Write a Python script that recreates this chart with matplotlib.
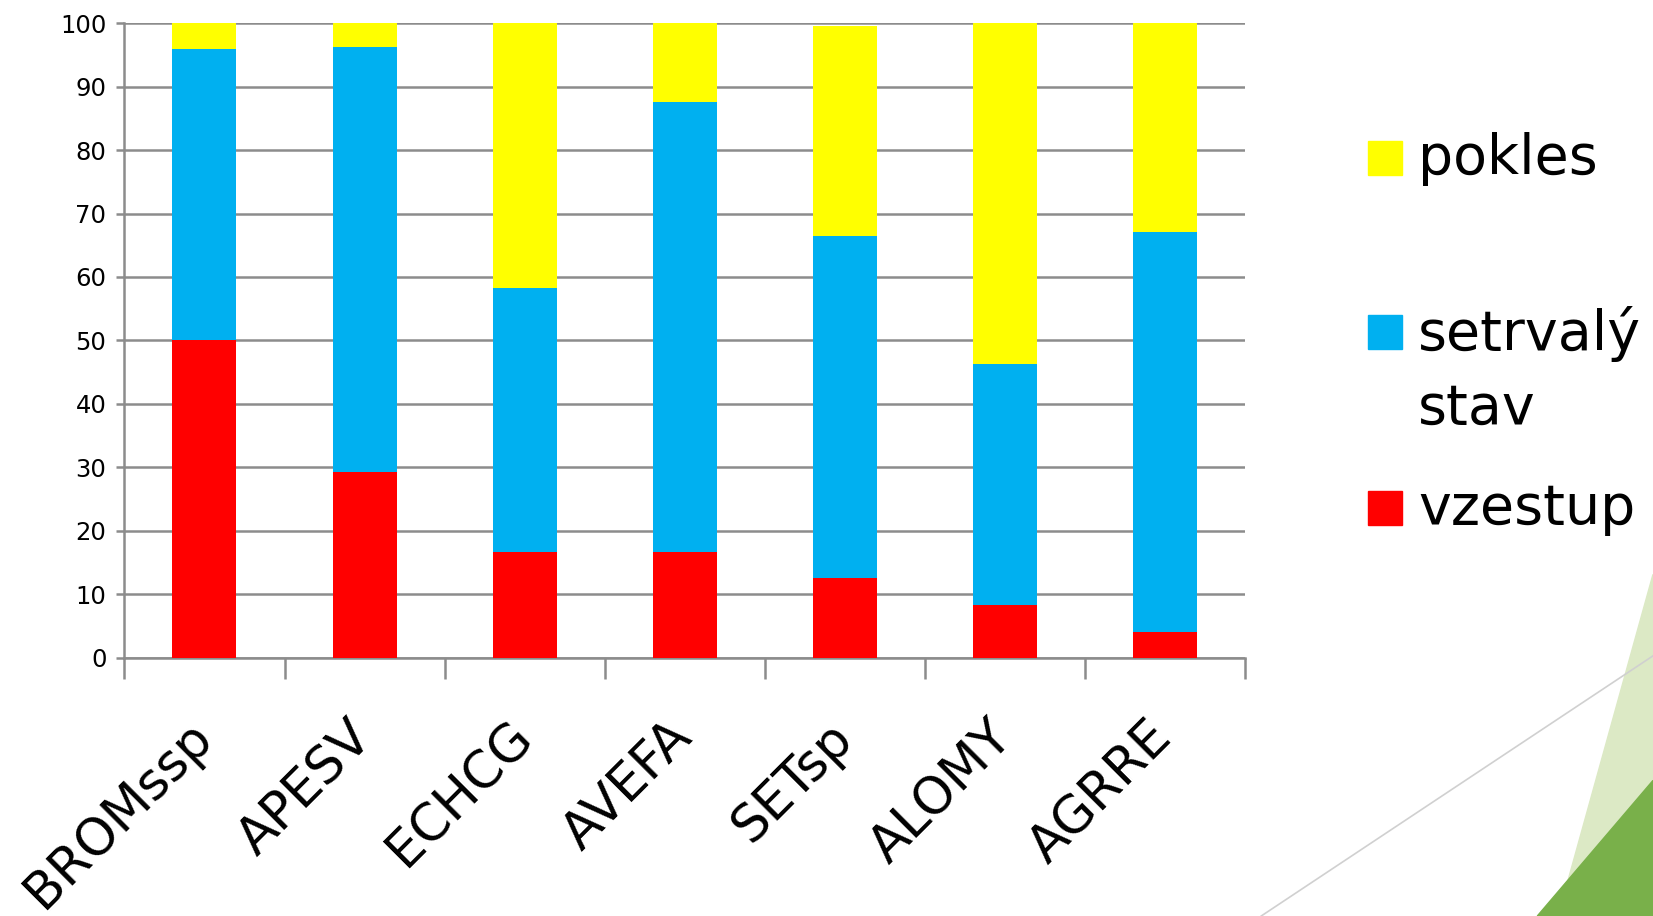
import matplotlib.pyplot as plt
from matplotlib.patches import Polygon, Rectangle
from matplotlib.lines import Line2D
import numpy as np

plt.rcParams['font.family'] = ['DejaVu Sans']

druhy = ['BROMssp', 'APESV', 'ECHCG', 'AVEFA', 'SETsp', 'ALOMY', 'AGRRE']
vzestup = [50.0, 29.2, 16.7, 16.7, 12.5, 8.3, 4.0]
setrvaly = [46.0, 67.0, 41.6, 70.8, 54.0, 38.0, 63.1]
pokles = [4.0, 3.8, 41.7, 12.5, 33.0, 53.7, 32.9]

barvy = {'vzestup': '#FF0000', 'setrvalý\nstav': '#00B0F0', 'pokles': '#FFFF00'}
sedá = '#8C8C8C'

fig = plt.figure(figsize=(16.53, 9.16), dpi=100)
ax = fig.add_axes([0.0753, 0.282, 0.6777, 0.6927])

x = np.arange(len(druhy))
spodek = np.zeros(len(druhy))
for hodnoty, nazev in zip([vzestup, setrvaly, pokles], ['vzestup', 'setrvalý\nstav', 'pokles']):
    ax.bar(x, hodnoty, width=0.4, bottom=spodek, color=barvy[nazev], zorder=3)
    spodek += np.array(hodnoty)

ax.set_xlim(-0.5, len(druhy) - 0.5)
ax.set_ylim(0, 100)
ax.set_yticks(range(0, 101, 10))
ax.yaxis.grid(True, color=sedá, linewidth=1.8, zorder=0)
ax.set_axisbelow(True)

for s in ['top', 'right']:
    ax.spines[s].set_visible(False)
for s in ['left', 'bottom']:
    ax.spines[s].set_color(sedá)
    ax.spines[s].set_linewidth(1.8)

ax.tick_params(axis='y', length=6, width=1.8, color=sedá, labelsize=17.5, pad=7)
ax.set_xticks(x)
ax.set_xticklabels(druhy, rotation=45, ha='right', va='center',
                   rotation_mode='anchor', fontsize=37)
ax.tick_params(axis='x', which='major', length=0, pad=52)
ax.set_xticks(np.arange(-0.5, len(druhy)), minor=True)
ax.tick_params(axis='x', which='minor', length=15, width=1.8, color=sedá)

# legenda vpravo
polohy = [0.8274, 0.6375, 0.4453]
for nazev, yc in zip(['pokles', 'setrvalý\nstav', 'vzestup'], polohy):
    fig.patches.append(Rectangle((0.8278, yc - 0.0184), 0.0204, 0.0368,
                                 transform=fig.transFigure, color=barvy[nazev]))
    fig.text(0.8578, yc + 0.028, nazev, fontsize=40, va='top', ha='left',
             linespacing=1.45)

# dekorace v pravém dolním rohu
fig.patches.append(Polygon([(1.0, 0.373), (0.9426, 0.0), (1.0, 0.0)], closed=True,
                           transform=fig.transFigure, color='#DCE9C5', zorder=0))
fig.patches.append(Polygon([(1.0, 0.148), (0.930, 0.0), (1.0, 0.0)], closed=True,
                           transform=fig.transFigure, color='#79B04A', zorder=1))
fig.lines.append(Line2D([0.763, 1.0], [0.0, 0.284], transform=fig.transFigure,
                        color='#D0D0D0', linewidth=1.2))

fig.savefig('out.png', dpi=100)
